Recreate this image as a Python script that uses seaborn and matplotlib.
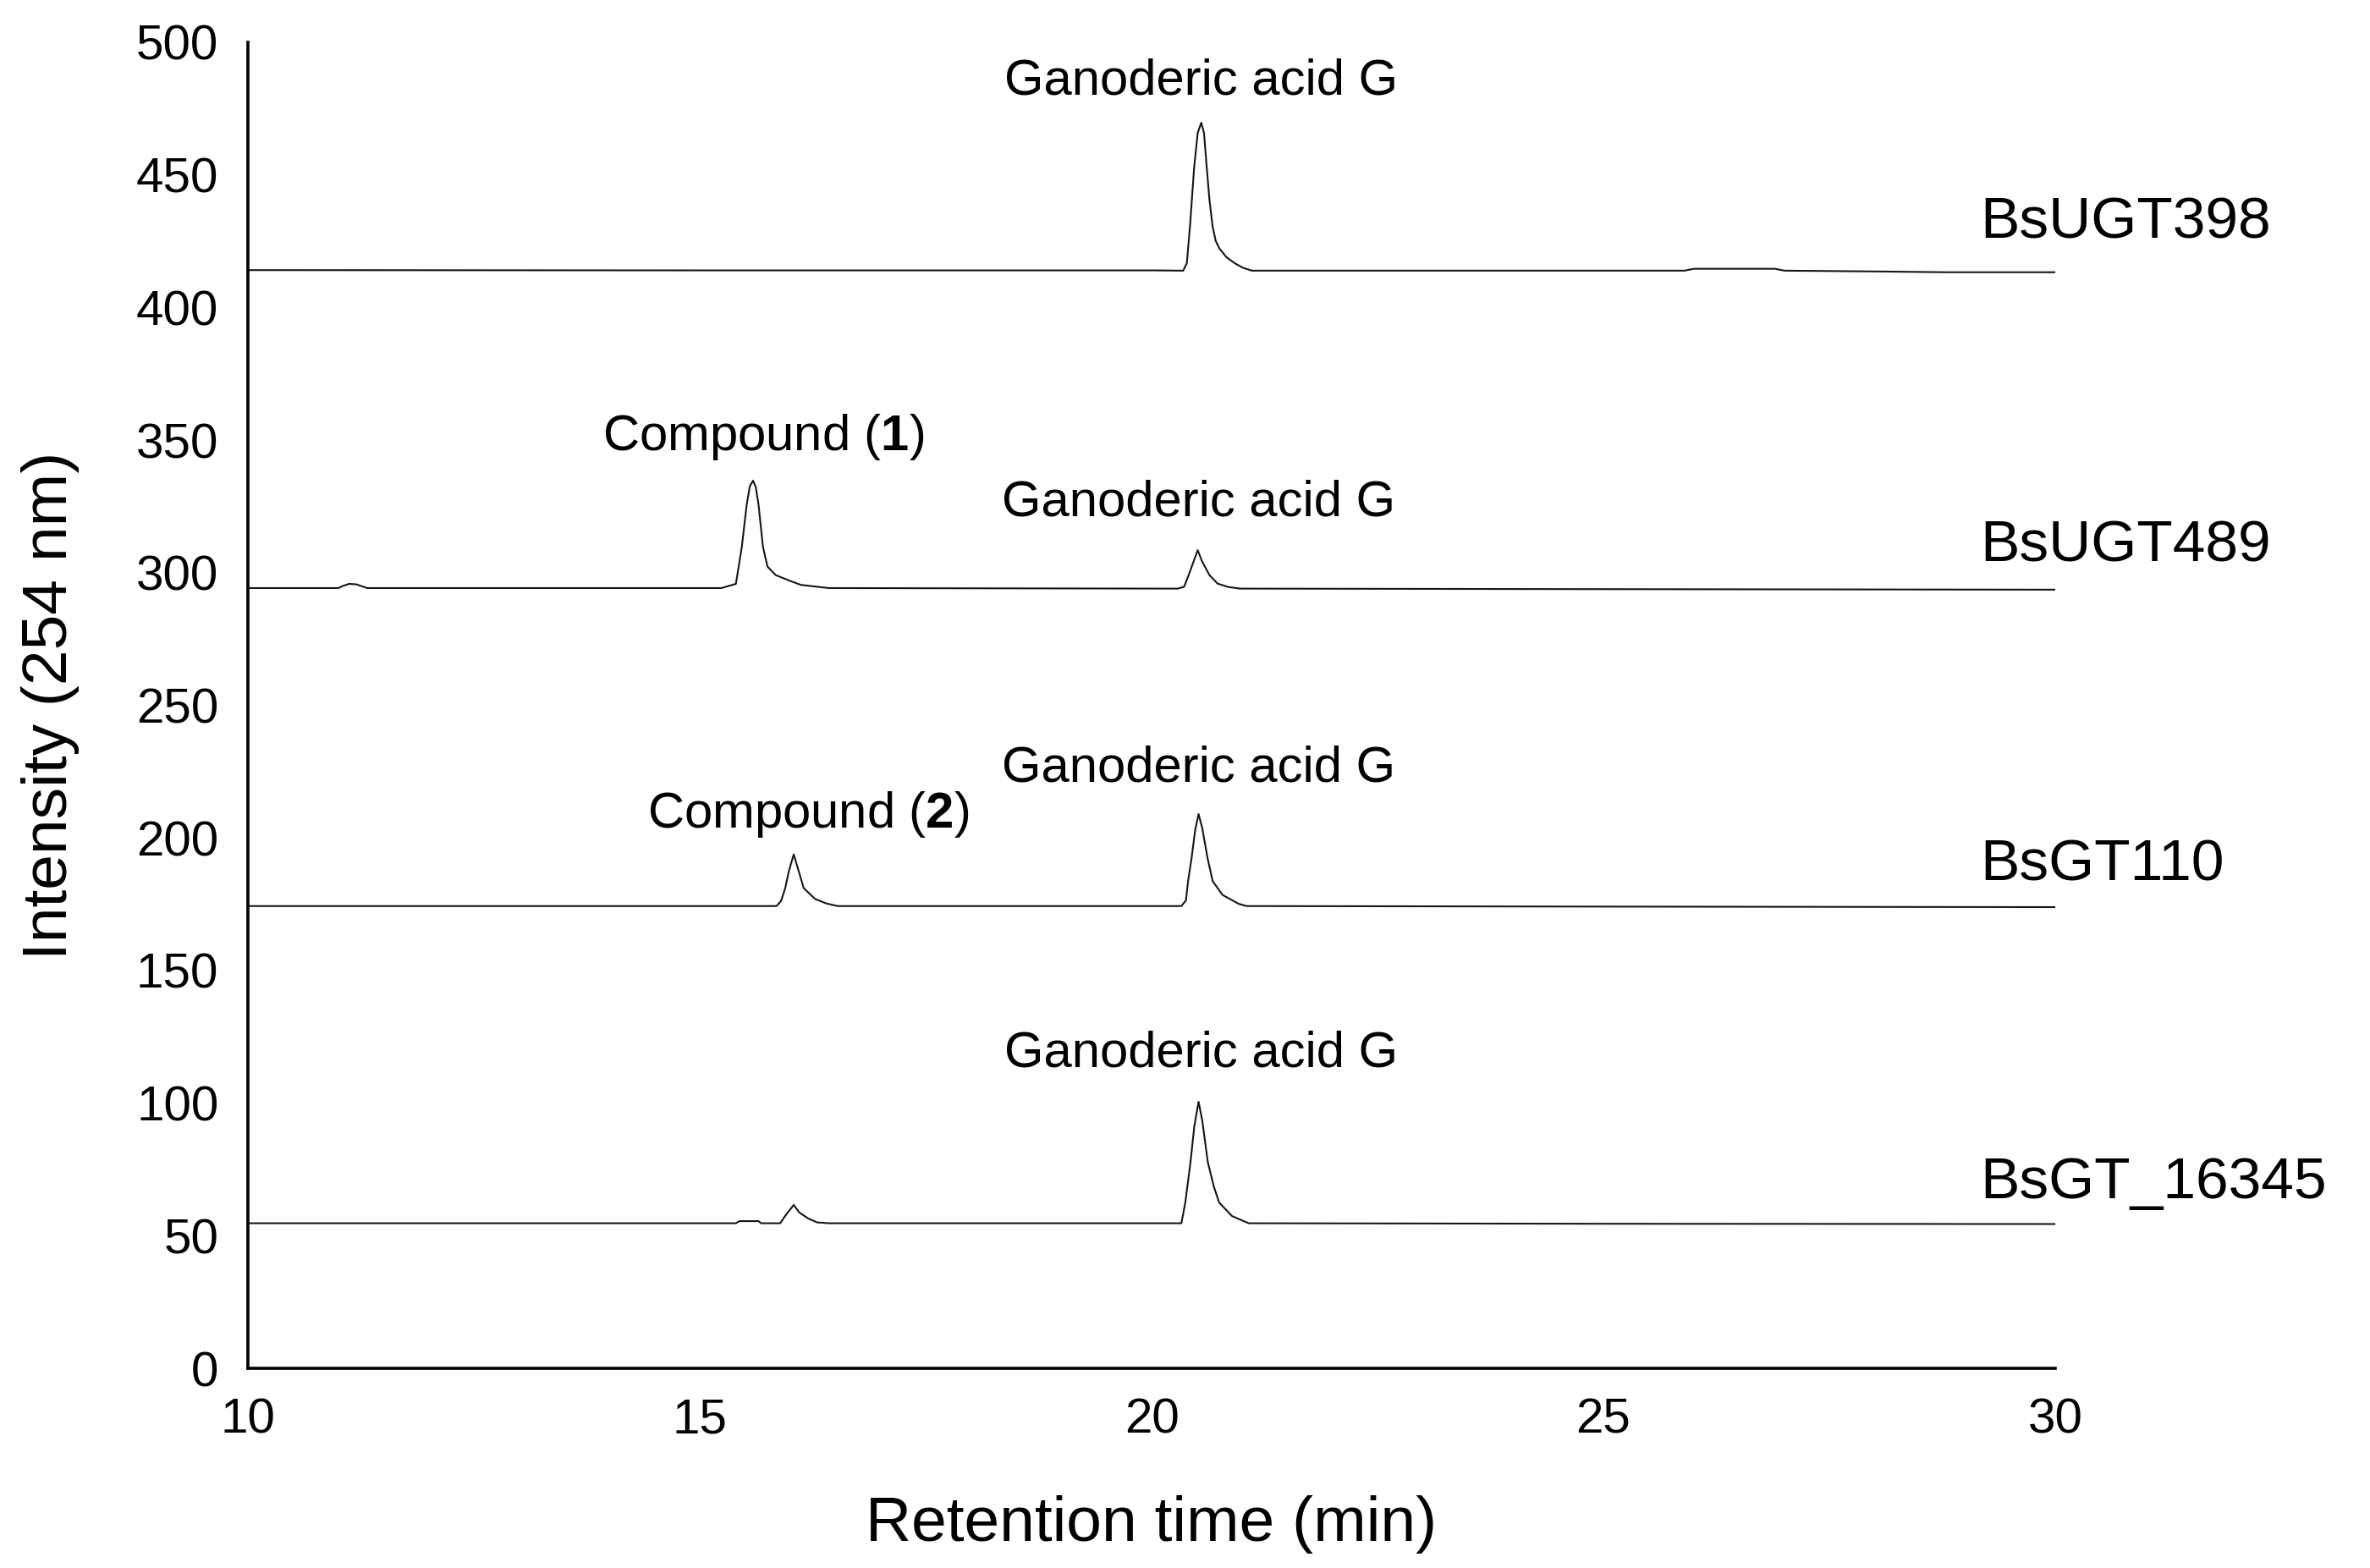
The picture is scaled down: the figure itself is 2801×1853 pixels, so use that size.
import matplotlib
matplotlib.use("Agg")
import matplotlib.pyplot as plt
import pandas as pd
import seaborn as sns

# ── chromatogram traces (retention time in min, intensity at 254 nm) ──
samples = ["BsUGT398", "BsUGT489", "BsGT110", "BsGT_16345"]

t_ugt398 = [10.0, 15.0, 20.0, 20.35, 20.39, 20.425, 20.47, 20.51, 20.55, 20.58,
            20.61, 20.64, 20.675, 20.71, 20.75, 20.83, 20.92, 21.01, 21.11,
            25.9, 26.0, 26.9, 27.0, 28.0, 28.8, 30.0]
y_ugt398 = [414.1, 414.0, 414.0, 413.9, 416.7, 430.6, 452.4, 465.8, 469.7, 465.8,
            453.0, 440.7, 430.6, 425.1, 422.3, 418.9, 416.7, 415.0, 413.9,
            413.9, 414.6, 414.6, 413.9, 413.6, 413.3, 413.3]

t_ugt489 = [10.0, 11.0, 11.05, 11.12, 11.2, 11.32, 15.24, 15.40, 15.465, 15.52,
            15.555, 15.59, 15.62, 15.65, 15.70, 15.75, 15.84, 16.0, 16.12, 16.43,
            20.29, 20.36, 20.41, 20.455, 20.51, 20.56, 20.64, 20.73, 20.85, 20.98,
            25.0, 30.0]
y_ugt489 = [294.2, 294.2, 295.0, 295.8, 295.6, 294.2, 294.2, 295.8, 309.6, 325.8,
            332.7, 334.7, 332.3, 325.8, 309.6, 302.3, 299.1, 296.9, 295.4, 294.2,
            294.0, 294.7, 299.1, 303.3, 308.5, 304.2, 299.1, 295.9, 294.6, 294.0,
            293.8, 293.6]

t_gt110 = [10.0, 15.0, 15.85, 15.90, 15.946, 15.987, 16.04, 16.09, 16.15, 16.275,
           16.40, 16.525, 20.33, 20.38, 20.404, 20.442, 20.483, 20.52, 20.56, 20.62,
           20.676, 20.785, 20.96, 21.05, 25.0, 30.0]
y_gt110 = [174.3, 174.3, 174.3, 176.25, 181.1, 187.6, 193.8, 188.0, 181.1, 177.0,
           175.3, 174.3, 174.3, 176.4, 183.7, 192.3, 203.1, 209.0, 203.8, 192.3,
           183.7, 178.5, 175.2, 174.3, 174.1, 173.9]

t_gt16345 = [10.0, 15.40, 15.44, 15.65, 15.68, 15.89, 15.96, 16.04, 16.10, 16.20,
             16.30, 16.43, 20.33, 20.373, 20.43, 20.473, 20.52, 20.56, 20.623, 20.69,
             20.748, 20.89, 21.075, 25.0, 30.0]
y_gt16345 = [54.7, 54.7, 55.5, 55.5, 54.7, 54.7, 58.15, 61.6, 58.8, 56.5,
             55.0, 54.7, 54.7, 62.5, 77.6, 91.3, 100.5, 93.6, 77.6, 68.4,
             62.5, 57.4, 54.7, 54.5, 54.4]

# sample name labels (left edge x, baseline y)
sample_label_x = 29.17
sample_label_y = [426.0, 304.4, 184.1, 64.1]

# peak annotations (centre x, baseline y)
peak_labels = ["Ganoderic acid G", "Compound ($\\mathbf{1}$)", "Ganoderic acid G",
               "Compound ($\\mathbf{2}$)", "Ganoderic acid G", "Ganoderic acid G"]
peak_label_x = [20.55, 15.70, 20.52, 16.20, 20.52, 20.55]
peak_label_y = [480.5, 346.2, 321.6, 203.9, 221.4, 113.6]

x_ticks = [10, 15, 20, 25, 30]
y_ticks = [0, 50, 100, 150, 200, 250, 300, 350, 400, 450, 500]

traces = [(t_ugt398, y_ugt398), (t_ugt489, y_ugt489),
          (t_gt110, y_gt110), (t_gt16345, y_gt16345)]
df = pd.concat(
    [pd.DataFrame({"time": t, "intensity": y, "sample": s})
     for s, (t, y) in zip(samples, traces)],
    ignore_index=True)

# ── style ──────────────────────────────────────────────────────────────
sns.set_style("white")
plt.rcParams["font.family"] = ["Liberation Sans", "DejaVu Sans"]
plt.rcParams["mathtext.fontset"] = "custom"
plt.rcParams["mathtext.rm"] = "Liberation Sans"
plt.rcParams["mathtext.bf"] = "Liberation Sans:bold"

fig = plt.figure(figsize=(2801 / 200, 1853 / 200), dpi=200, facecolor="white")
ax = fig.add_axes([0.10461, 0.12736, 0.76258, 0.84566])

sns.lineplot(data=df, x="time", y="intensity", units="sample", estimator=None,
             color="#151515", linewidth=0.75, legend=False, ax=ax)

ax.set_xlim(10, 30)
ax.set_ylim(0, 500)
ax.set_xticks(x_ticks)
ax.set_yticks(y_ticks)
ax.tick_params(axis="both", length=0, pad=12.5, labelsize=21, colors="black")

sns.despine(ax=ax)
for side in ("left", "bottom"):
    ax.spines[side].set_color("black")
    ax.spines[side].set_linewidth(1.3)

ax.set_xlabel("Retention time (min)", fontsize=27, labelpad=22, color="black")
ax.set_ylabel("Intensity (254 nm)", fontsize=27, labelpad=24, color="black")

for name, yy in zip(samples, sample_label_y):
    ax.text(sample_label_x, yy, name, fontsize=25, ha="left", va="baseline",
            color="black", clip_on=False)

for txt, xx, yy in zip(peak_labels, peak_label_x, peak_label_y):
    ax.text(xx, yy, txt, fontsize=21.5, ha="center", va="baseline", color="black")

fig.savefig("out.png", dpi=200, facecolor="white")
